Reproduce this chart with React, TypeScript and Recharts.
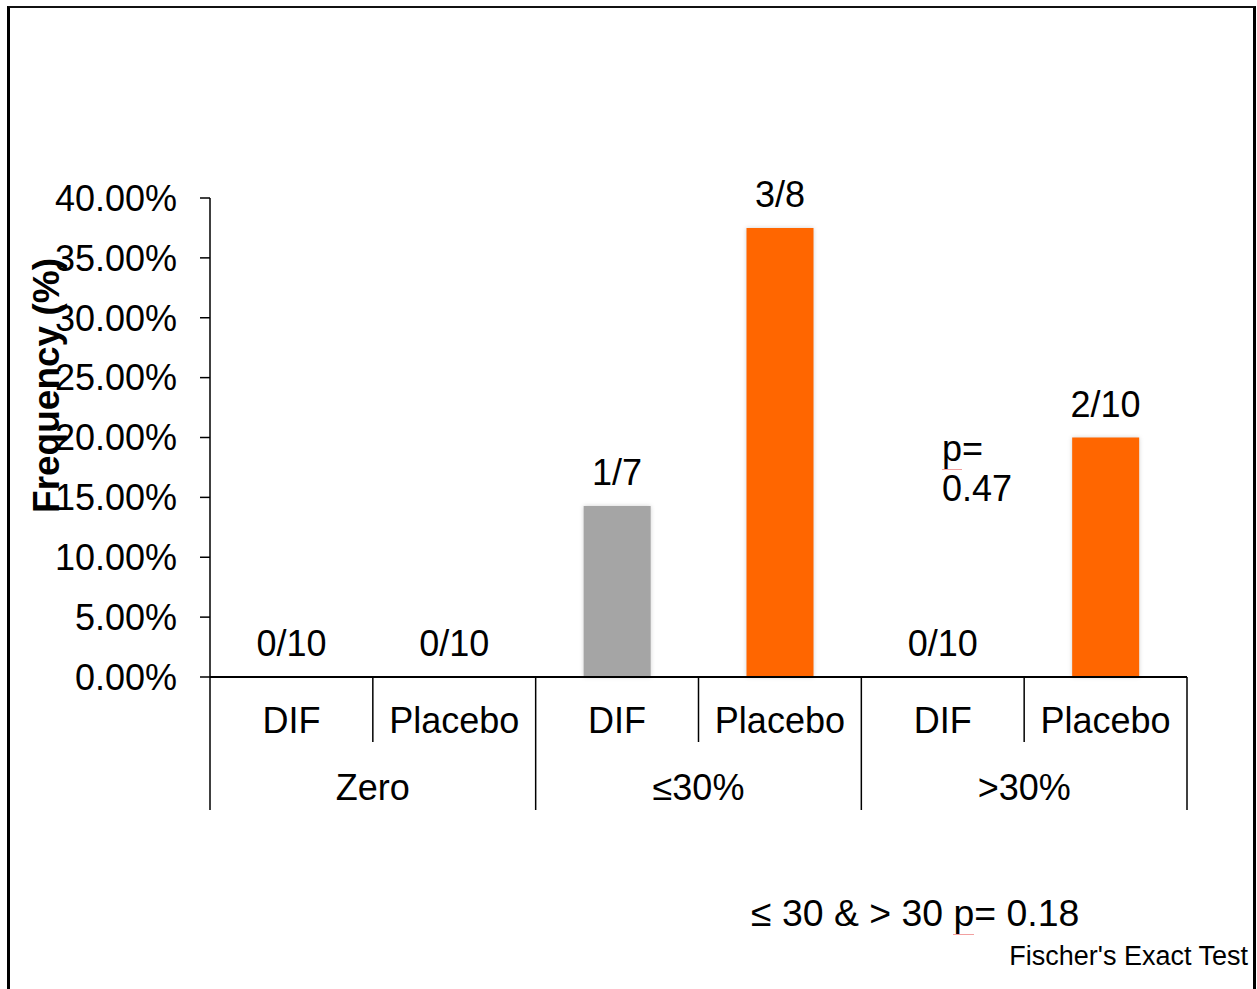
import { ComposedChart, Bar, Line, XAxis, YAxis, Cell, LabelList, Label } from "recharts";

// subgroup / group per bar, and the counts behind each frequency
const categories = ["DIF", "Placebo", "DIF", "Placebo", "DIF", "Placebo"];
const groups = ["Zero", "Zero", "≤30%", "≤30%", ">30%", ">30%"];
const events = [0, 0, 1, 3, 0, 2];
const totals = [10, 10, 7, 8, 10, 10];
const yTicks = [0, 0.05, 0.1, 0.15, 0.2, 0.25, 0.3, 0.35, 0.4];

const data = categories.map((sub, i) => ({
  sub,
  group: groups[i],
  value: events[i] / totals[i],
  label: `${events[i]}/${totals[i]}`,
}));

const FONT = "'Liberation Sans', Arial, sans-serif";
const FS = 36;
const barColor: Record<string, string> = { DIF: "#A5A5A5", Placebo: "#FF6600" };

const W = 1257;
const H = 989;
const margin = { top: 198, right: 70, left: 0, bottom: 179 };
const Y_AXIS_W = 210;
const SUB_H = 65;
const GROUP_H = 68;
const plotW = W - margin.left - margin.right - Y_AXIS_W;

function SubTick(props: any) {
  const { x, y, payload, index } = props;
  const half = payload?.offset || plotW / categories.length / 2;
  const lineLen = (i: number) => (i % 2 === 0 ? SUB_H + GROUP_H : SUB_H);
  return (
    <g>
      <line x1={x - half} x2={x - half} y1={y} y2={y + lineLen(index)} stroke="#000" strokeWidth={1.5} />
      {index === categories.length - 1 && (
        <line x1={x + half} x2={x + half} y1={y} y2={y + SUB_H + GROUP_H} stroke="#000" strokeWidth={1.5} />
      )}
      <text x={x} y={y + 43} dy="0.35em" textAnchor="middle" fontFamily={FONT} fontSize={FS} fill="#000">
        {payload.value}
      </text>
    </g>
  );
}

function GroupTick(props: any) {
  const { x, y, payload } = props;
  return (
    <text x={x} y={y + 45} dy="0.35em" textAnchor="middle" fontFamily={FONT} fontSize={FS} fill="#000">
      {payload.value}
    </text>
  );
}

function YTitle(props: any) {
  const vb = props.viewBox || { x: 0, y: margin.top, height: 479 };
  const cx = vb.x + 59;
  const cy = vb.y + vb.height / 2 - 52;
  return (
    <text x={cx} y={cy} transform={`rotate(-90 ${cx} ${cy})`} textAnchor="middle"
      fontFamily={FONT} fontSize={37} fontWeight="bold" fill="#000">
      Frequency (%)
    </text>
  );
}

const redMark = { borderBottom: "1px solid #f2a0a0" };

export default function App() {
  return (
    <div style={{ position: "absolute", left: 0, top: 0, width: W, height: H, overflow: "hidden", background: "#fff" }}>
      <ComposedChart width={W} height={H} data={data} margin={margin} style={{ fontFamily: FONT }}>
        <YAxis
          width={Y_AXIS_W}
          domain={[0, 0.4]}
          ticks={yTicks}
          interval={0}
          tickFormatter={(v: number) => `${(v * 100).toFixed(2)}%`}
          tick={{ fontSize: FS, fill: "#000", fontFamily: FONT }}
          tickSize={10}
          tickMargin={23}
          axisLine={{ stroke: "#000", strokeWidth: 1.5 }}
          tickLine={{ stroke: "#000", strokeWidth: 1.5 }}
        >
          <Label content={YTitle} />
        </YAxis>
        <XAxis
          dataKey="sub"
          height={SUB_H}
          interval={0}
          tickSize={0}
          tickMargin={0}
          tick={SubTick}
          axisLine={{ stroke: "#000", strokeWidth: 2 }}
          tickLine={false}
        />
        <XAxis
          xAxisId="group"
          dataKey="group"
          allowDuplicatedCategory={false}
          height={GROUP_H}
          interval={0}
          tickSize={0}
          tickMargin={0}
          tick={GroupTick}
          axisLine={false}
          tickLine={false}
        />
        <Bar dataKey="value" barSize={67} isAnimationActive={false}
          style={{ filter: "drop-shadow(0 0 2px rgba(0,0,0,0.18))" }}>
          {data.map((d, i) => (
            <Cell key={i} fill={barColor[d.sub]} />
          ))}
        </Bar>
        {/* invisible series carrying the n/N labels, so zero bars get one too */}
        <Line dataKey="value" stroke="none" dot={false} activeDot={false} isAnimationActive={false}>
          <LabelList dataKey="label" position="top" offset={21} fill="#000" fontSize={FS} fontFamily={FONT} />
        </Line>
      </ComposedChart>

      {/* outer frame, open at the bottom */}
      <div style={{
        position: "absolute", left: 7, top: 6, width: W - 7 - 1, height: H,
        borderLeft: "3px solid #000", borderTop: "2px solid #111", borderRight: "3px solid #000",
        boxSizing: "border-box", pointerEvents: "none",
      }} />

      <div style={{ position: "absolute", left: 942, top: 429, fontFamily: FONT, fontSize: FS, lineHeight: "40px", color: "#000" }}>
        <span style={redMark}>p</span>=<br />0.47
      </div>
      <div style={{ position: "absolute", left: 751, top: 892, fontFamily: FONT, fontSize: 37.4, lineHeight: "42px", color: "#000", whiteSpace: "nowrap" }}>
        ≤ 30 &amp; &gt; 30 <span style={redMark}>p</span>= 0.18
      </div>
      <div style={{ position: "absolute", right: 9, top: 941, fontFamily: FONT, fontSize: 27, lineHeight: "30px", color: "#000", whiteSpace: "nowrap" }}>
        Fischer's Exact Test
      </div>
    </div>
  );
}
